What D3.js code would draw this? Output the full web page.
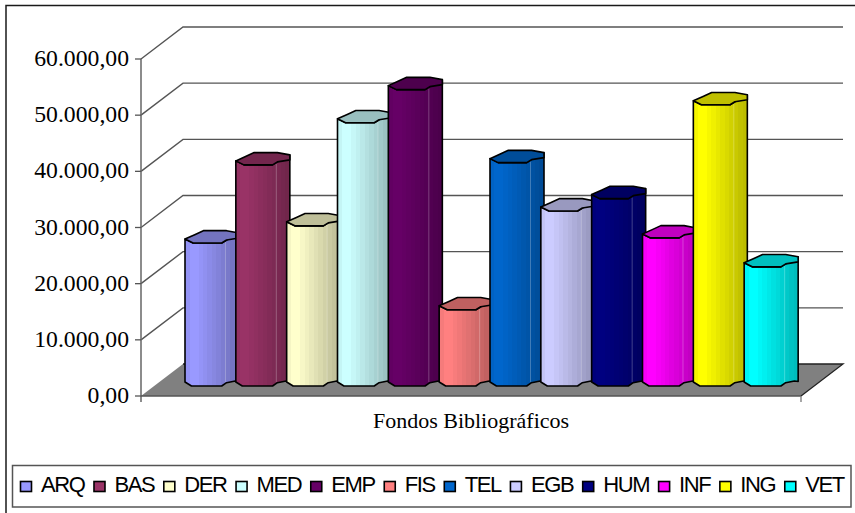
<!DOCTYPE html>
<html>
<head>
<meta charset="utf-8">
<script src="https://cdn.jsdelivr.net/npm/d3@7"></script>
<style>
  html, body { margin: 0; padding: 0; background: #fff; overflow: hidden; }
  svg { display: block; }
</style>
</head>
<body>
<div id="chart"></div>
<script>
// donnees
const categories = ["ARQ", "BAS", "DER", "MED", "EMP", "FIS", "TEL", "EGB", "HUM", "INF", "ING", "VET"];
const values = [26000, 39900, 29050, 47400, 53300, 14100, 40300, 31700, 33900, 26900, 50600, 21750];
const colors = ["#9999ff", "#993366", "#ffffcc", "#ccffff", "#660066", "#ff8080", "#0066cc", "#ccccff", "#000080", "#ff00ff", "#ffff00", "#00ffff"];
const yTicks = [0, 10000, 20000, 30000, 40000, 50000, 60000];
const groupLabel = "Fondos Bibliográficos";

const width = 855;
const height = 513;

// profondeur du plancher 3D
const depthX = 42;
const depthY = -32;

const svg = d3.select("#chart").append("svg").attr("width", width).attr("height", height);

const y = d3.scaleLinear().domain([0, 60000]).range([396, 59]);
const x = d3.scaleBand().domain(categories).range([185, 795]);
const color = d3.scaleOrdinal().domain(categories).range(colors);
const value = new Map(categories.map((c, i) => [c, values[i]]));

// format espagnol 60.000,00
const fmt = d3.formatLocale({ decimal: ",", thousands: ".", grouping: [3], currency: ["", ""] }).format(",.2f");

// cadre : gauche et haut seulement, le reste est coupe
svg.append("path").attr("d", "M6,513V5.5H855").attr("fill", "none").attr("stroke", "#1a1a1a").attr("stroke-width", 1.5);

// plancher
const x0 = 141, x1 = 801, y0 = y(0);
svg.append("path")
  .attr("d", `M${x0},${y0}L${x1},${y0}L${x1 + depthX},${y0 + depthY}L${x0 + depthX},${y0 + depthY}Z`)
  .attr("fill", "#808080")
  .attr("stroke", "none");
svg.append("path")
  .attr("d", `M${x0 + depthX},${y0 + depthY}L${x1 + depthX},${y0 + depthY}L${x1},${y0}`)
  .attr("fill", "none").attr("stroke", "#222").attr("stroke-width", 1.3);

// grille du mur
svg.append("g").selectAll("path").data(yTicks.slice(1)).join("path")
  .attr("d", t => `M${x0},${y(t)}L${x0 + depthX},${y(t) + depthY}L${x1 + depthX},${y(t) + depthY}`)
  .attr("fill", "none").attr("stroke", "#555").attr("stroke-width", 1.4);

// axe y
const axis = svg.append("g");
axis.append("line").attr("x1", x0).attr("x2", x0).attr("y1", y(60000)).attr("y2", y0 + 6).attr("stroke", "#666").attr("stroke-width", 1.5);
axis.append("line").attr("x1", x0).attr("x2", x1).attr("y1", y0).attr("y2", y0).attr("stroke", "#555").attr("stroke-width", 1.5);
axis.append("line").attr("x1", x1).attr("x2", x1).attr("y1", y0).attr("y2", y0 + 6).attr("stroke", "#777").attr("stroke-width", 1.3);
axis.selectAll(".tick").data(yTicks).join("line").attr("class", "tick")
  .attr("x1", x0 - 6).attr("x2", x0).attr("y1", d => y(d)).attr("y2", d => y(d)).attr("stroke", "#555").attr("stroke-width", 1.3);
axis.selectAll(".lbl").data(yTicks).join("text").attr("class", "lbl")
  .attr("x", 129).attr("y", d => y(d) + 7)
  .attr("text-anchor", "end")
  .attr("font-family", "'Liberation Serif', serif")
  .attr("font-size", 23.7)
  .attr("fill", "#000")
  .text(d => fmt(d));

// nom du groupe
svg.append("text").attr("x", 471).attr("y", 428).attr("text-anchor", "middle")
  .attr("font-family", "'Liberation Serif', serif").attr("font-size", 22).attr("fill", "#000")
  .text(groupLabel);

// degrade en bandes pour imiter le cylindre
const stripes = [0.96, 1, 1, 0.97, 0.94, 0.91, 0.88, 0.85, 0.82, 0.79, 0.76, 0.74];
const defs = svg.append("defs");
categories.forEach(function (c, i) {
  const g = defs.append("linearGradient").attr("id", "bar" + i);
  stripes.forEach(function (s, j) {
    const col = d3.rgb(color(c));
    const shade = `rgb(${col.r * s},${col.g * s},${col.b * s})`;
    g.append("stop").attr("offset", j / stripes.length).attr("stop-color", shade);
    g.append("stop").attr("offset", (j + 1) / stripes.length).attr("stop-color", shade);
  });
});

// barres : forme du cylindre (fraction de largeur, decalage en px)
const barW = 54;
const barBase = y(0) - 10;
const frontTop = [[0, -4], [0.15, 0], [0.68, 0], [0.77, -3], [1, -5]];
const backTop = [[1, -10], [0.77, -12.3], [0.34, -12.3], [0.18, -8.3]];
const bottom = [[1, -4.5], [0.93, -5], [0.77, -3.3], [0.68, 0], [0.12, 0], [0, -4]];

function pts(list, bx, by) {
  return list.map(p => [bx + p[0] * barW, by + p[1]]);
}
const line = d3.line();

const bars = svg.append("g").selectAll("g").data(categories).join("g");
bars.each(function (c, i) {
  const g = d3.select(this);
  const bx = x(c);
  const top = y(value.get(c)) - 7;
  // flanc : le bord droit remonte jusqu'a l'arriere du dessus
  const side = [[bx, top - 4]].concat(pts(frontTop, bx, top).slice(1, -1), [[bx + barW, top - 10]], pts(bottom, bx, barBase));
  g.append("path")
    .attr("d", line(side) + "Z")
    .attr("fill", `url(#bar${i})`)
    .attr("stroke", "#000").attr("stroke-width", 1.6).attr("stroke-linejoin", "round");
  // petit reflet vertical
  g.append("line").attr("x1", bx + barW * 0.75).attr("x2", bx + barW * 0.75)
    .attr("y1", top - 1).attr("y2", barBase - 4)
    .attr("stroke", "#fff").attr("stroke-opacity", 0.25).attr("stroke-width", 1);
  const t = d3.rgb(color(c));
  g.append("path")
    .attr("d", line(pts(frontTop, bx, top).concat(pts(backTop, bx, top))) + "Z")
    .attr("fill", `rgb(${t.r * 0.75},${t.g * 0.75},${t.b * 0.75})`)
    .attr("stroke", "#000").attr("stroke-width", 1.6).attr("stroke-linejoin", "round");
});

// legende
svg.append("rect").attr("x", 12.5).attr("y", 465.5).attr("width", 838.5).attr("height", 41.5)
  .attr("fill", "#fff").attr("stroke", "#555").attr("stroke-width", 1.5);

const legend = svg.append("g");
let cursor = 20;
categories.forEach(function (c) {
  legend.append("rect").attr("x", cursor + 0.5).attr("y", 481.5).attr("width", 11).attr("height", 10)
    .attr("fill", color(c)).attr("stroke", "#000").attr("stroke-width", 1.6);
  const t = legend.append("text").attr("x", cursor + 21).attr("y", 492)
    .attr("font-family", "'Liberation Sans', Arial, sans-serif")
    .attr("font-size", 22).attr("letter-spacing", -1.4).attr("fill", "#000")
    .text(c);
  cursor += 21 + t.node().getComputedTextLength() + 9;
});
</script>
</body>
</html>
